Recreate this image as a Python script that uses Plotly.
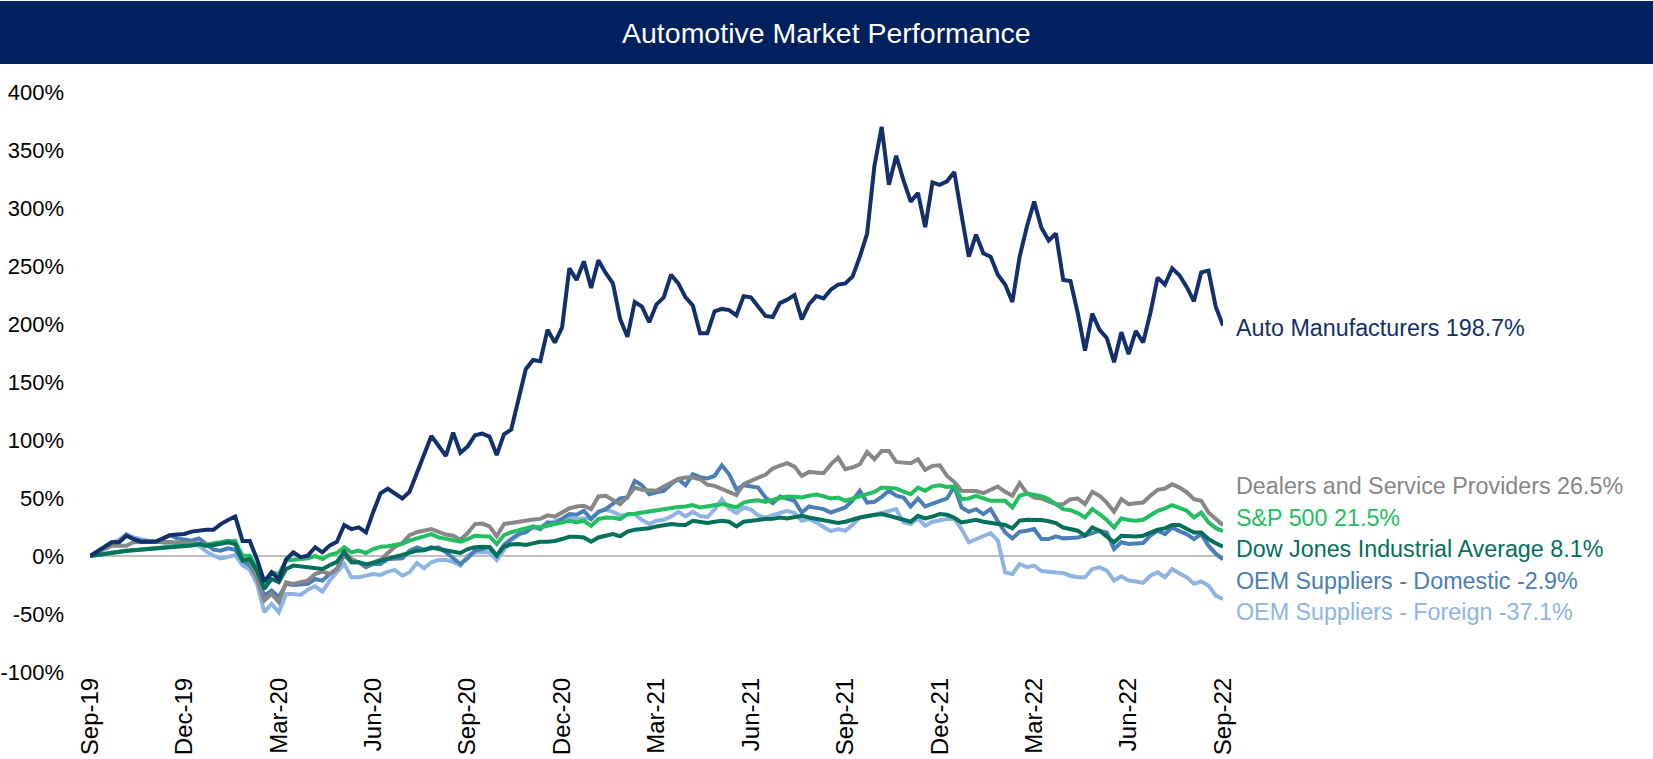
import pandas as pd
import plotly.graph_objects as go

# ---------------- data ----------------
dates = pd.date_range("2019-09-30", periods=157, freq="7D")

auto_manufacturers = [
    0, 4, 8, 11.8, 11.8, 17.5, 14.6, 12.3, 12.3, 12.3,
    15, 18, 18.5, 19, 21, 22, 22.6, 22.6, 27.5, 31,
    34, 13, 13, -3, -22, -14, -20, -3, 3.2, -1,
    0.3, 7.5, 3.2, 9, 12.3, 26.7, 23.2, 24.7, 20.4, 38,
    54, 58, 54, 49.6, 55.3, 72, 89, 103.4, 95, 86.2,
    106.4, 89, 94.5, 104, 105.5, 103, 87, 105, 109, 135,
    161, 169, 168, 195, 184, 197, 248, 238, 254, 231,
    255, 244, 235, 204, 189, 219, 215, 201.5, 217, 223,
    242.5, 235, 223, 216, 192, 192, 211, 213, 212, 207.5,
    224, 223, 215, 207, 206, 218, 221, 225, 204, 217,
    224, 222, 229.6, 234, 235, 241, 258, 278, 336, 370,
    320, 345, 324, 305.5, 313, 283.5, 322, 320, 323, 331,
    294, 258, 277, 261, 258, 242.5, 234, 219, 258, 284,
    305.5, 283, 272, 278, 238, 237, 209.5, 177, 209, 195,
    188, 167, 193, 174, 194, 184, 209.5, 240, 234, 248,
    242, 232, 219.5, 244.5, 246, 215, 198.7,
]

dealers_service = [
    0, 3, 6, 8.9, 8.9, 8.9, 11.8, 12, 12.3, 12.3,
    12.3, 12, 11.2, 11.2, 11.2, 11, 10.3, 9.5, 10.5, 12,
    13.2, -2.6, -4, -19.8, -38.4, -32.7, -39.8, -22.6, -24, -22.5,
    -21.2, -15.5, -13.5, -15.5, -11.2, 3.2, -2.6, -5.4, -8.3, -5.4,
    -3.2, 2.6, 8, 11.2, 18, 20.5, 21.5, 23.2, 20.9, 18.5,
    17.5, 14, 19.8, 27.5, 28, 25.5, 17, 27.5, 28.5, 29.5,
    31, 31.5, 32, 35, 34, 37.5, 41, 42.7, 43.3, 40.4,
    51.3, 51.9, 48, 44.7, 51, 59, 57, 56.2, 56.2, 60,
    63, 66.5, 67.6, 67.6, 66.2, 61.5, 60.5, 58, 55, 52.5,
    61.9, 65, 67.6, 70, 75.4, 78, 80, 77.1, 69, 72.5,
    72, 71.4, 79, 84.8, 74.8, 76.5, 79.1, 89.7, 83.4, 90.6,
    90.6, 81.1, 80.5, 80, 83.4, 74.2, 77.7, 78.2, 69, 63.9,
    56.2, 56.2, 56, 54.2, 57, 59.9, 55.3, 51.9, 62.8, 54.2,
    50.4, 49.6, 47, 44.7, 44.7, 49, 49.6, 44.7, 55.3, 51.9,
    46, 38.1, 49, 44.7, 45.5, 46.1, 51.9, 57, 58.2, 61.9,
    59, 55, 49, 47.6, 37.5, 32, 26.5,
]

sp500 = [
    0, 1, 2, 2.6, 3.5, 4.6, 5, 5.5, 6, 7,
    7.5, 8, 8.9, 9.5, 10, 10.3, 8.9, 11, 11.8, 13.2,
    12.3, 0.3, 0.3, -11, -25.5, -14, -15.5, -4, -3.2, -2.5,
    -2, 0, -2.6, 1, 2.6, 7.5, 3.2, 4.6, 2.6, 6,
    8, 8.5, 9.5, 10.5, 13.2, 15, 16.5, 18.9, 16, 15,
    13.5, 12.3, 14.6, 17.5, 17, 16.9, 10.3, 18, 20.5, 22,
    23.5, 25.5, 24.6, 26, 27.5, 29, 30.4, 29, 30.4, 26,
    31.8, 33.2, 33, 31.8, 36.1, 36.5, 37.5, 38.5, 40, 41,
    41.8, 42.3, 42.7, 43.9, 41.8, 43, 43.9, 44.7, 43.5, 41.8,
    46, 47.5, 48, 46.7, 48.5, 50, 51.3, 51, 50.4, 52,
    53, 51.5, 49.6, 50.4, 47.6, 49.5, 51.3, 53.5, 55.3, 59,
    58.5, 58.2, 55.5, 53.3, 59, 56.2, 60, 61, 59.5, 60,
    49, 49.6, 51.9, 49.5, 47.6, 47.6, 47.6, 41.8, 51.9, 53.9,
    52.5, 51.5, 49, 45, 40.4, 39.5, 37, 33.2, 40.4, 36.1,
    31, 24.6, 32.4, 31, 30.4, 31.2, 34.7, 39, 41, 43.9,
    41.5, 39, 33.2, 37.5, 29, 24, 21.5,
]

dow_jones = [
    0, 1, 2, 2.6, 3.5, 4.6, 5, 5.5, 6, 6.3,
    6.6, 7, 7.5, 8, 9, 10.3, 8.9, 9.5, 10.3, 11.8,
    10.3, -4, -2.6, -12.6, -28.4, -19.8, -22.6, -11.2, -8.3, -9,
    -9.7, -10.6, -11.2, -8, -5, 3.7, -5.4, -5.4, -7, -6,
    -4, -2, -0.5, 1, 3.2, 4.6, 5, 7.5, 6, 4.6,
    3.5, 2.6, 6, 7.5, 8, 7.5, 0.5, 8, 10, 10.3,
    9.5, 11, 12.3, 12.3, 13, 14.6, 16.5, 16.5, 16, 12.3,
    16, 17.5, 18.9, 17, 21, 22.6, 23.2, 24, 25.5, 26.5,
    27.5, 27, 26.7, 30.4, 29, 28.4, 29.5, 30.4, 29.5, 25.5,
    29.5, 30.5, 31.2, 31.8, 32, 33.2, 32.4, 33.5, 34.7, 33.2,
    31.8, 31.2, 29.5, 28.4, 29.5, 31.5, 33.2, 34.5, 35.5, 36.1,
    34.7, 33, 31, 29.5, 34.7, 32.4, 34, 36.1, 35.5, 33,
    29, 30, 31.2, 29.5, 28.4, 27.5, 26.7, 23.8, 30.4, 31.2,
    31.2, 31, 30, 28.4, 24.5, 23, 21.8, 17.5, 24.6, 21.8,
    17, 11.8, 17.5, 17, 16.9, 17.5, 20.5, 22.6, 23.8, 26.7,
    26.7, 23, 20.3, 20.3, 14.6, 11, 8.1,
]

oem_domestic = [
    0, 4, 8, 11.8, 11.8, 18, 14.6, 13.2, 12.8, 12.3,
    15, 18, 15.2, 14, 13.2, 15.2, 10, 5.5, 4.6, 6.6,
    5.4, -4, -8.3, -18.3, -34.1, -29.8, -35.5, -24, -25, -24.5,
    -24, -19.8, -21.2, -15.5, -11.2, 0.9, -5.4, -5.4, -9.7, -6.9,
    -6.9, -2.6, -2.5, -2, 4.6, 7.5, 5.4, 6.5, 7.5, 3.2,
    -2, -6.9, -2, 4.6, 6, 8, 0.3, 9.5, 14.6, 18.9,
    20.3, 25.5, 23.2, 29, 28, 32.4, 36.1, 35.5, 39, 31.8,
    38, 40.4, 44.7, 49.6, 50.4, 64.8, 61, 53.3, 55, 56.2,
    61.9, 66.2, 61, 70.5, 68, 66.8, 69, 78.2, 70.5, 57.6,
    61, 60, 59, 50.4, 45.6, 51.3, 49, 47.6, 37.5, 42.7,
    41.5, 40.4, 37.5, 40, 41.8, 48, 56.2, 46.1, 46.7, 51,
    56.2, 52, 50.4, 42.7, 49.6, 42.7, 45, 46.7, 49.6, 59.9,
    41.8, 38.1, 40.4, 36.1, 40.4, 30, 20.3, 15.2, 20.9, 21.8,
    23.2, 14.6, 14.6, 17, 15.2, 15.6, 16, 17.5, 19.5, 21.8,
    20.3, 6, 11.8, 10.3, 10.8, 11.2, 17.5, 21.8, 18.9, 24.6,
    21.5, 18.9, 14.6, 18.9, 8.9, 2, -2.9,
]

oem_foreign = [
    0, 4, 8, 11.2, 14, 18.9, 16, 14.5, 13.2, 12.5,
    11.8, 10.5, 9.5, 11.2, 10, 8.9, 4, 0.3, -2, -1,
    0.9, -8, -12, -24, -48.4, -41.3, -48.4, -32.7, -32.7, -33.5,
    -29, -26.1, -30.7, -21.2, -14, -6.9, -18.3, -18.3, -16.9, -15.5,
    -16.3, -13.5, -12, -17, -14, -6, -10.6, -5.4, -3.5, -3.5,
    -5, -8.3, 0.5, 3, 3.5, 3.2, -3.5, 6, 14, 18,
    23, 24, 25, 28, 30, 32, 33, 32, 32.4, 32.4,
    38.1, 40, 38, 35, 35.5, 36.1, 31, 27.5, 30.4, 31.2,
    34, 38.1, 34.1, 38.1, 34.5, 33.5, 40, 49, 41, 37,
    41.8, 40, 35, 33, 35.2, 37.5, 39, 37, 30.4, 31.8,
    29, 25, 21.5, 23.2, 21.8, 27, 33.2, 34, 35.5, 37,
    38.5, 40.4, 29, 27.5, 32.4, 26.1, 29.5, 31, 31.8, 31.8,
    23.2, 11.8, 14.5, 17, 19.8, 13.2, -14, -15.5, -6.9, -9.7,
    -8.3, -13, -14, -14.3, -14.6, -17, -18.3, -18.3, -11.2, -9.7,
    -12.6, -21.2, -17.5, -21.2, -22, -23.2, -16.9, -14, -18.3, -11.2,
    -15, -18.3, -24, -22, -25.5, -34.1, -37.1,
]

series_names = [
    "Auto Manufacturers",
    "Dealers and Service Providers",
    "S&P 500",
    "Dow Jones Industrial Average",
    "OEM Suppliers - Domestic",
    "OEM Suppliers - Foreign",
]
series_values = [auto_manufacturers, dealers_service, sp500, dow_jones,
                 oem_domestic, oem_foreign]

y_tick_values = [-100, -50, 0, 50, 100, 150, 200, 250, 300, 350, 400]
x_tick_every = 13

# ---------------- styles ----------------
colors = ["#12306B", "#878787", "#23BE61", "#03705C", "#4A7EB7", "#8EB4E3"]
label_yshift = [-2.4, 38.9, 13, -2.4, -21.3, -13.2]
draw_order = [5, 4, 1, 2, 3, 0]
FONT = "Liberation Sans, Arial, Helvetica, sans-serif"

W, H = 1653, 759
ML, MR, MT, MB = 90, 430, 92, 87
PW, PH = W - ML - MR, H - MT - MB
BAR_H = 64

fig = go.Figure()
for k in draw_order:
    fig.add_trace(go.Scatter(
        x=dates, y=series_values[k], mode="lines", name=series_names[k],
        line=dict(color=colors[k], width=4), hoverinfo="skip",
    ))

annotations = []
for k, (nm, vals) in enumerate(zip(series_names, series_values)):
    annotations.append(dict(
        x=dates[-1], y=vals[-1], xref="x", yref="y",
        text=f"{nm} {vals[-1]:.1f}%", showarrow=False,
        xanchor="left", yanchor="middle", xshift=11, yshift=label_yshift[k],
        font=dict(family=FONT, size=23.3, color=colors[k]),
    ))

# title text on the navy bar
annotations.append(dict(
    x=(W / 2 - ML) / PW, y=1 + (MT - BAR_H / 2 - 1) / PH, xref="paper", yref="paper",
    text="Automotive Market Performance", showarrow=False,
    xanchor="center", yanchor="middle",
    font=dict(family=FONT, size=28.5, color="white"),
))

fig.update_layout(
    width=W, height=H, autosize=False,
    margin=dict(l=ML, r=MR, t=MT, b=MB, autoexpand=False),
    paper_bgcolor="white", plot_bgcolor="white",
    showlegend=False,
    font=dict(family=FONT, color="black"),
    annotations=annotations,
    shapes=[dict(
        type="rect", xref="paper", yref="paper",
        x0=-ML / PW, x1=1 + MR / PW,
        y0=1 + (MT - BAR_H) / PH, y1=1 + (MT - 1) / PH,
        fillcolor="#00205E", line=dict(width=0), layer="below",
    )],
    xaxis=dict(
        range=[dates[0], dates[-1]],
        tickvals=list(dates[::x_tick_every]),
        ticktext=[d.strftime("%b-%y") for d in dates[::x_tick_every]],
        tickangle=-90, tickfont=dict(family=FONT, size=24, color="black"),
        showgrid=False, zeroline=False, showline=False, ticks="",
        automargin=False,
    ),
    yaxis=dict(
        range=[-100, 400],
        tickvals=y_tick_values,
        ticktext=[f"{v}%" for v in y_tick_values],
        tickfont=dict(family=FONT, size=22, color="black"),
        showgrid=False, zeroline=True, zerolinecolor="#BFBFBF", zerolinewidth=1.5,
        showline=False, ticks="", ticklabelstandoff=25, automargin=False,
    ),
)

fig.write_html(
    "out.html",
    config={"displayModeBar": False},
    post_script="document.body.style.margin='0';document.body.style.overflow='hidden';",
)
